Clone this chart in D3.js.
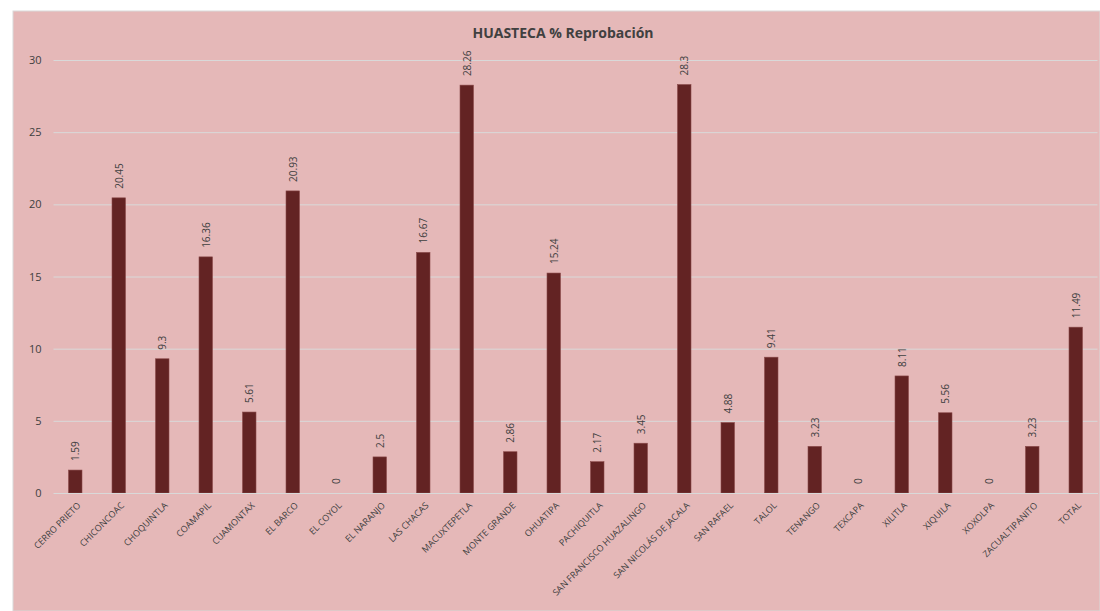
<!DOCTYPE html>
<html><head><meta charset="utf-8">
<script src="https://cdn.jsdelivr.net/npm/d3@7"></script>
<style>body{margin:0;background:#fff;}svg{display:block;font-family:"Open Sans","Liberation Sans",sans-serif;}</style>
</head><body>
<svg id="c" width="1100" height="611"></svg>
<script>
const categories = ["CERRO PRIETO","CHICONCOAC","CHOQUINTLA","COAMAPIL","CUAMONTAX","EL BARCO","EL COYOL","EL NARANJO","LAS CHACAS","MACUXTEPETLA","MONTE GRANDE","OHUATIPA","PACHIQUITLA","SAN FRANCISCO HUAZALINGO","SAN NICOLÁS DE JACALA","SAN RAFAEL","TALOL","TENANGO","TEXCAPA","XILITLA","XIQUILA","XOXOLPA","ZACUALTIPANITO","TOTAL"];
const values = [1.59,20.45,9.3,16.36,5.61,20.93,0,2.5,16.67,28.26,2.86,15.24,2.17,3.45,28.3,4.88,9.41,3.23,0,8.11,5.56,0,3.23,11.49];
const yTicks = [0,5,10,15,20,25,30];
const title = "HUASTECA % Reprobación";

const svg = d3.select("#c");
svg.append("rect").attr("x",13).attr("y",11).attr("width",1087).attr("height",600)
  .attr("fill","#E5B8B8").attr("stroke","#d9d9d9").attr("stroke-width",1);

const x = d3.scaleBand().domain(categories).range([53.5,1097.5]).paddingInner(0.69).paddingOuter(0.345);
const y = d3.scaleLinear().domain([0,30]).range([493,60]);

svg.append("text").attr("x",563).attr("y",38).attr("text-anchor","middle")
  .attr("font-size",14).attr("font-weight","bold").attr("fill","#404040").text(title);

const yAxis = svg.append("g").attr("transform","translate(53.5,0)")
  .call(d3.axisLeft(y).tickValues(yTicks).tickSize(-1044).tickFormat(d3.format("d")));
yAxis.select(".domain").remove();
yAxis.selectAll("line").attr("stroke","#d9d9d9").attr("stroke-width",1);
yAxis.selectAll("text").attr("fill","#404040").attr("font-size",11).attr("x",-12).attr("font-family","'Open Sans',sans-serif");

svg.append("g").selectAll("rect").data(values).join("rect")
  .attr("x",(d,i)=>x(categories[i])).attr("width",x.bandwidth())
  .attr("y",d=>y(d)).attr("height",d=>y(0)-y(d))
  .attr("fill","#632323").attr("stroke","#8a4a4a").attr("stroke-width",0.6);

svg.append("g").selectAll("text").data(values).join("text")
  .attr("transform",(d,i)=>`translate(${x(categories[i])+x.bandwidth()/2+4},${y(d)-9}) rotate(-90)`)
  .attr("font-size",10).attr("fill","#404040").text(d=>d);

const xAxis = svg.append("g").attr("transform","translate(0,493)")
  .call(d3.axisBottom(x).tickSize(0));
xAxis.select(".domain").attr("stroke","#d9d9d9");
xAxis.selectAll("text")
  .attr("text-anchor","end").attr("font-size",9).attr("fill","#404040")
  .attr("dy",0).attr("y",0)
  .attr("transform","translate(6,13) rotate(-45)")
  .attr("font-family","'Open Sans',sans-serif");
</script>
</body></html>
